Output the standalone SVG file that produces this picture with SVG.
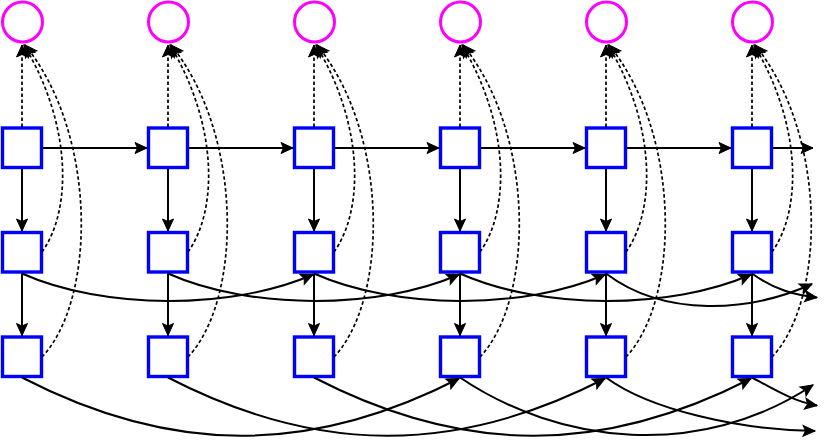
<svg xmlns="http://www.w3.org/2000/svg" width="831" height="441" viewBox="0 0 831 441">
<style>
.box{fill:#fff;stroke:#0000ff;stroke-width:3.4}
.out{fill:#fff;stroke:#ff00ff;stroke-width:3}
.e{fill:none;stroke:#000;stroke-width:2;marker-end:url(#ah)}
.d{fill:none;stroke:#000;stroke-width:1.7;stroke-dasharray:3.5 2.5;marker-end:url(#ah)}
</style>
<defs>
<marker id="ah" markerUnits="userSpaceOnUse" markerWidth="16" markerHeight="14" refX="13" refY="7" orient="auto" overflow="visible">
<path d="M1,1.5 L13,7 L1,12.5 L3.5,7 Z" fill="#000" stroke="#000" stroke-width="1" stroke-linejoin="miter"/>
</marker>
</defs>
<g id="nodes">
<g id="o0"><circle class="out" cx="22.5" cy="22" r="20"/></g>
<g id="o1"><circle class="out" cx="168.5" cy="22" r="20"/></g>
<g id="o2"><circle class="out" cx="314.5" cy="22" r="20"/></g>
<g id="o3"><circle class="out" cx="460.5" cy="22" r="20"/></g>
<g id="o4"><circle class="out" cx="606.5" cy="22" r="20"/></g>
<g id="o5"><circle class="out" cx="752.5" cy="22" r="20"/></g>
<g id="a0"><rect class="box" x="2.5" y="128" width="39" height="39.5"/></g>
<g id="a1"><rect class="box" x="148.5" y="128" width="39" height="39.5"/></g>
<g id="a2"><rect class="box" x="294.5" y="128" width="39" height="39.5"/></g>
<g id="a3"><rect class="box" x="440.5" y="128" width="39" height="39.5"/></g>
<g id="a4"><rect class="box" x="586.5" y="128" width="39" height="39.5"/></g>
<g id="a5"><rect class="box" x="732.5" y="128" width="39" height="39.5"/></g>
<g id="b0"><rect class="box" x="2.5" y="232.5" width="39" height="39.5"/></g>
<g id="b1"><rect class="box" x="148.5" y="232.5" width="39" height="39.5"/></g>
<g id="b2"><rect class="box" x="294.5" y="232.5" width="39" height="39.5"/></g>
<g id="b3"><rect class="box" x="440.5" y="232.5" width="39" height="39.5"/></g>
<g id="b4"><rect class="box" x="586.5" y="232.5" width="39" height="39.5"/></g>
<g id="b5"><rect class="box" x="732.5" y="232.5" width="39" height="39.5"/></g>
<g id="c0"><rect class="box" x="2.5" y="337" width="39" height="39.5"/></g>
<g id="c1"><rect class="box" x="148.5" y="337" width="39" height="39.5"/></g>
<g id="c2"><rect class="box" x="294.5" y="337" width="39" height="39.5"/></g>
<g id="c3"><rect class="box" x="440.5" y="337" width="39" height="39.5"/></g>
<g id="c4"><rect class="box" x="586.5" y="337" width="39" height="39.5"/></g>
<g id="c5"><rect class="box" x="732.5" y="337" width="39" height="39.5"/></g>
</g>
<g id="connectors">
<path class="e" d="M43,148 L147,148"/>
<path class="e" d="M189,148 L293,148"/>
<path class="e" d="M335,148 L439,148"/>
<path class="e" d="M481,148 L585,148"/>
<path class="e" d="M627,148 L731,148"/>
<path class="e" d="M773,148 L813,148"/>
<path class="e" d="M22,169 L22,231"/>
<path class="e" d="M168,169 L168,231"/>
<path class="e" d="M314,169 L314,231"/>
<path class="e" d="M460,169 L460,231"/>
<path class="e" d="M606,169 L606,231"/>
<path class="e" d="M752,169 L752,231"/>
<path class="e" d="M22,273.5 L22,335.5"/>
<path class="e" d="M168,273.5 L168,335.5"/>
<path class="e" d="M314,273.5 L314,335.5"/>
<path class="e" d="M460,273.5 L460,335.5"/>
<path class="e" d="M606,273.5 L606,335.5"/>
<path class="e" d="M752,273.5 L752,335.5"/>
<path class="d" d="M22,127 L22,45"/>
<path class="d" d="M168,127 L168,45"/>
<path class="d" d="M314,127 L314,45"/>
<path class="d" d="M460,127 L460,45"/>
<path class="d" d="M606,127 L606,45"/>
<path class="d" d="M752,127 L752,45"/>
<path class="d" d="M42,252 C72,210 72,125 24,45"/>
<path class="d" d="M188,252 C218,210 218,125 170,45"/>
<path class="d" d="M334,252 C364,210 364,125 316,45"/>
<path class="d" d="M480,252 C510,210 510,125 462,45"/>
<path class="d" d="M626,252 C656,210 656,125 608,45"/>
<path class="d" d="M772,252 C802,210 802,125 754,45"/>
<path class="d" d="M42,357 C96,300 98,135 25,45"/>
<path class="d" d="M188,357 C242,300 244,135 171,45"/>
<path class="d" d="M334,357 C388,300 390,135 317,45"/>
<path class="d" d="M480,357 C534,300 536,135 463,45"/>
<path class="d" d="M626,357 C680,300 682,135 609,45"/>
<path class="d" d="M772,357 C826,300 828,135 755,45"/>
<path class="e" d="M22,273.5 C104,310 232,310 313,274.5"/>
<path class="e" d="M168,273.5 C250,310 378,310 459,274.5"/>
<path class="e" d="M314,273.5 C396,310 524,310 605,274.5"/>
<path class="e" d="M460,273.5 C542,310 670,310 751,274.5"/>
<path class="e" d="M606,273.5 C665,318 750,312 812,284"/>
<path class="e" d="M752,273.5 C775,290 795,295 817,297.5"/>
<path class="e" d="M22,377.5 C172,455 310,455 459,378.5"/>
<path class="e" d="M168,377.5 C318,455 456,455 605,378.5"/>
<path class="e" d="M314,377.5 C464,455 602,455 751,378.5"/>
<path class="e" d="M460,377.5 C560,445 700,460 813,385"/>
<path class="e" d="M606,377.5 C650,410 740,430 815,431"/>
<path class="e" d="M752,377.5 C775,390 795,402 817,405.5"/>
</g>
</svg>
